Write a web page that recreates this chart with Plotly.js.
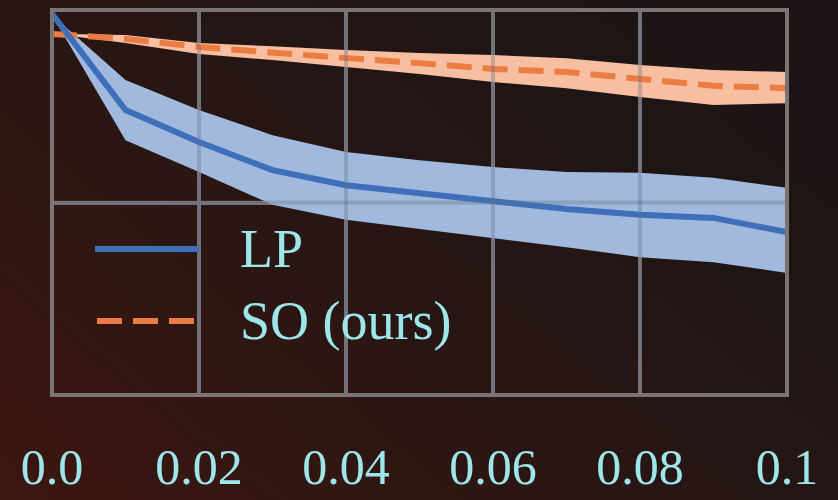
<!DOCTYPE html>
<html>
<head>
<meta charset="utf-8">
<script src="https://cdn.plot.ly/plotly-3.0.1.min.js"></script>
<style>
  html, body { margin:0; padding:0; width:838px; height:500px; overflow:hidden;
    background: linear-gradient(40deg, #3d1610 0%, #2a1613 40%, #1e1515 75%, #1c1515 100%); }
  #chart { width:838px; height:500px; }
</style>
</head>
<body>
<div id="chart"></div>
<script>
// x positions (noise level)
const xVals = [0, 0.01, 0.02, 0.03, 0.04, 0.05, 0.06, 0.07, 0.08, 0.09, 0.1];

// LP (normalized metric)
const lpMean  = [0.990, 0.740, 0.657, 0.584, 0.545, 0.525, 0.506, 0.483, 0.468, 0.460, 0.423];
const lpUpper = [0.987, 0.818, 0.740, 0.675, 0.631, 0.610, 0.592, 0.579, 0.577, 0.564, 0.538];
const lpLower = [0.987, 0.662, 0.579, 0.494, 0.455, 0.431, 0.408, 0.384, 0.358, 0.345, 0.317];

// SO (ours)
const soMean  = [0.938, 0.925, 0.904, 0.888, 0.875, 0.862, 0.847, 0.839, 0.821, 0.803, 0.797];
const soUpper = [0.938, 0.935, 0.914, 0.906, 0.896, 0.888, 0.883, 0.875, 0.857, 0.844, 0.839];
const soLower = [0.938, 0.914, 0.886, 0.870, 0.852, 0.834, 0.813, 0.797, 0.774, 0.753, 0.758];

const xTickVals = [0, 0.02, 0.04, 0.06, 0.08, 0.1];
const xTickText = ['0.0', '0.02', '0.04', '0.06', '0.08', '0.1'];
const yGridVals = [0.5];

const seriesNames = ['LP', 'SO (ours)'];

const textColor = '#9de6ea';
const fontFam = '"Liberation Serif", "DejaVu Serif", serif';
const blueLine = '#3e6fb9', blueFill = '#a0b9dc';
const orangeLine = '#ec7d42', orangeFill = '#f7bea1';
const dashPattern = '25px,11px';

const traces = [
  {x: xVals, y: soLower, mode: 'lines', line: {width: 0, color: orangeFill}, showlegend: false, hoverinfo: 'skip'},
  {x: xVals, y: soUpper, mode: 'lines', line: {width: 0, color: orangeFill}, fill: 'tonexty', fillcolor: orangeFill, showlegend: false, hoverinfo: 'skip'},
  {x: xVals, y: lpLower, mode: 'lines', line: {width: 0, color: blueFill}, showlegend: false, hoverinfo: 'skip'},
  {x: xVals, y: lpUpper, mode: 'lines', line: {width: 0, color: blueFill}, fill: 'tonexty', fillcolor: blueFill, showlegend: false, hoverinfo: 'skip'},
  {x: xVals, y: soMean, mode: 'lines', name: seriesNames[1], showlegend: false,
   line: {width: 6, color: orangeLine, dash: dashPattern}},
  {x: xVals, y: lpMean, mode: 'lines', name: seriesNames[0], showlegend: false,
   line: {width: 6, color: blueLine}}
];

const shapes = [];
xTickVals.slice(1, -1).forEach(v => shapes.push({type: 'line', xref: 'x', yref: 'paper', x0: v, x1: v, y0: 0, y1: 1,
  layer: 'above', line: {color: 'rgba(100,112,135,0.35)', width: 4}}));
yGridVals.forEach(v => shapes.push({type: 'line', xref: 'paper', yref: 'y', x0: 0, x1: 1, y0: v, y1: v,
  layer: 'above', line: {color: 'rgba(100,112,135,0.35)', width: 4}}));
shapes.push({type: 'rect', xref: 'paper', yref: 'paper', x0: 0, x1: 1, y0: 0, y1: 1, layer: 'above',
  line: {color: '#7b7473', width: 4}});

// legend keys (drawn in paper space)
const legendKeys = [
  {x0: 0.0585, x1: 0.2, y: 0.379, color: blueLine, dash: 'solid'},
  {x0: 0.0612, x1: 0.1932, y: 0.192, color: orangeLine, dash: dashPattern}
];
legendKeys.forEach(k => shapes.push({type: 'line', xref: 'paper', yref: 'paper', x0: k.x0, x1: k.x1, y0: k.y, y1: k.y,
  layer: 'above', line: {color: k.color, width: 6, dash: k.dash}}));

const annotations = seriesNames.map((n, i) => ({
  text: n, xref: 'paper', yref: 'paper', x: 0.253, y: legendKeys[i].y, xanchor: 'left', yanchor: 'middle',
  showarrow: false, font: {size: 54, color: textColor, family: fontFam}
}));

const layout = {
  width: 838, height: 500,
  margin: {l: 52, r: 51, t: 10, b: 105},
  paper_bgcolor: 'rgba(0,0,0,0)',
  plot_bgcolor: 'rgba(0,0,0,0)',
  font: {family: fontFam, color: textColor},
  showlegend: false,
  xaxis: {range: [0, 0.1], tickvals: xTickVals, ticktext: xTickText, showgrid: true,
    gridcolor: '#7b7473', gridwidth: 4, zeroline: false, showline: false, ticks: '',
    tickfont: {size: 50, color: textColor, family: fontFam}, ticklabelstandoff: 38},
  yaxis: {range: [0, 1], tickvals: yGridVals, showticklabels: false, showgrid: true,
    gridcolor: '#7b7473', gridwidth: 4, zeroline: false, showline: false, ticks: ''},
  shapes: shapes,
  annotations: annotations
};

Plotly.newPlot('chart', traces, layout, {displayModeBar: false, staticPlot: true});
</script>
</body>
</html>
